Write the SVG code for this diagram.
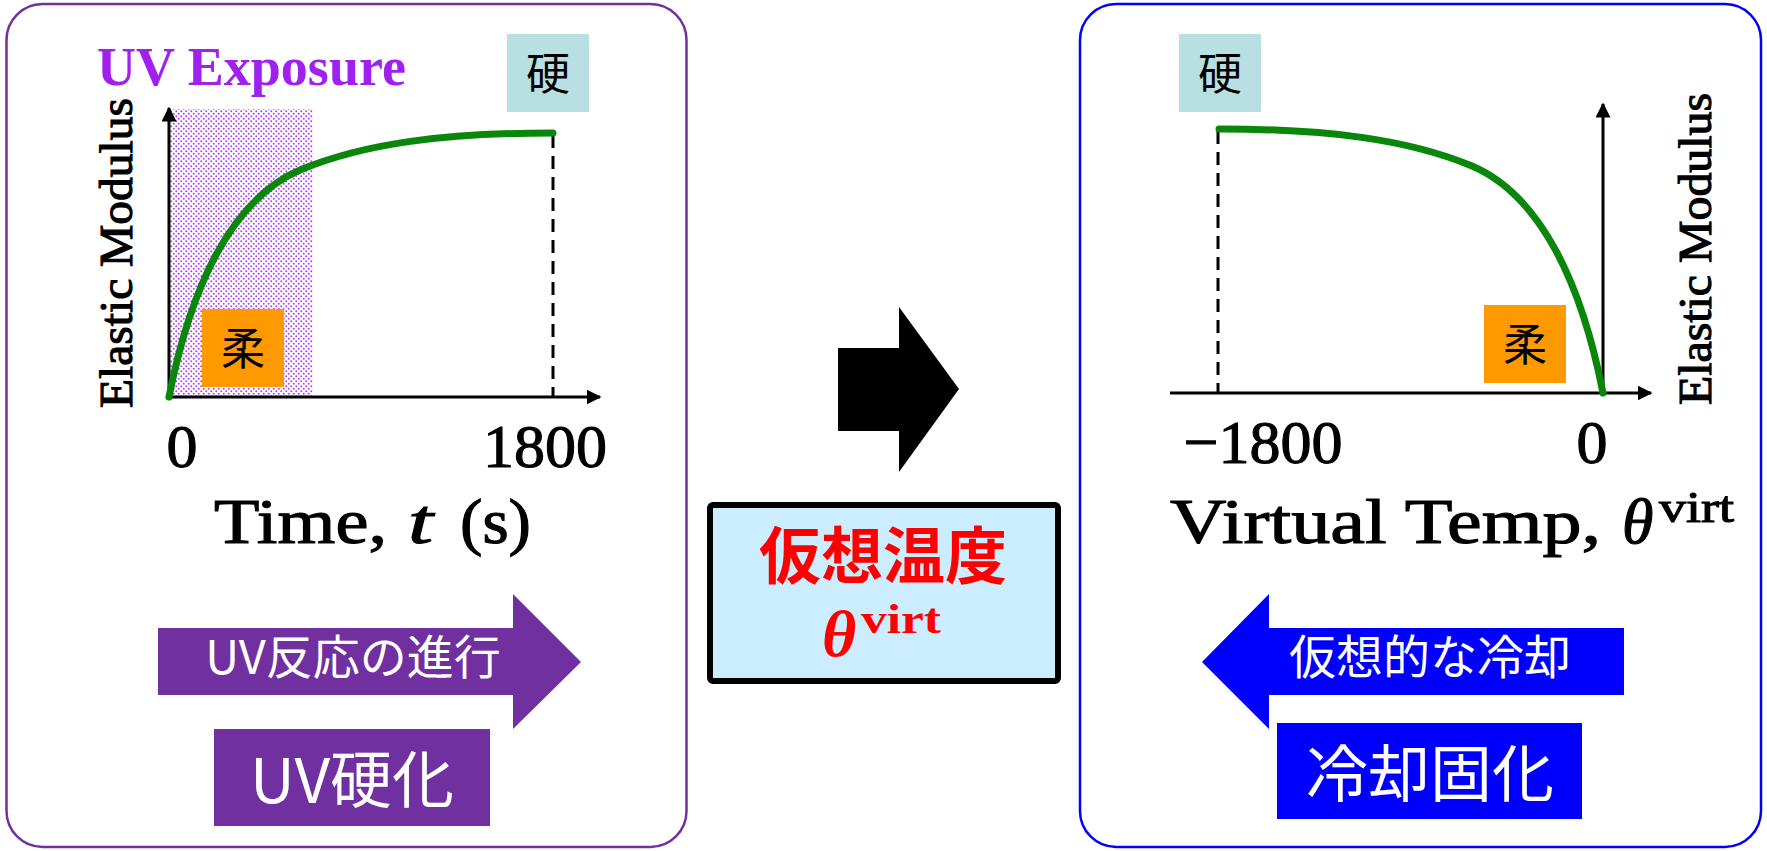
<svg xmlns="http://www.w3.org/2000/svg" xmlns:xlink="http://www.w3.org/1999/xlink" width="1767" height="851" viewBox="0 0 1767 851">
  <style>
    .serif { font-family: "Liberation Serif", "Times New Roman", serif; }
    .cjk { font-family: "Noto Sans CJK JP", "Noto Sans", sans-serif; }
    .heavy { stroke: #000; stroke-width: 1.1; }
    .axis { stroke: #000; stroke-width: 3; fill: none; }
    .guide { stroke: #000; stroke-width: 3; stroke-dasharray: 13 8; fill: none; }
    .curve { stroke: #0A870A; stroke-width: 7; fill: none; stroke-linecap: round; }
    .tag { font-size: 44px; fill: #000; text-anchor: middle; }
    .tick { font-size: 62px; fill: #000; text-anchor: middle; }
    .ylab { font-size: 46px; fill: #000; text-anchor: middle; }
    .white { fill: #fff; text-anchor: middle; }
  </style>
  <defs>
    <marker id="arrowhead" viewBox="0 0 10 10" refX="9" refY="5" markerWidth="5" markerHeight="5" markerUnits="strokeWidth" orient="auto">
      <path d="M0,0 L10,5 L0,10 Z" fill="#000"/>
    </marker>
    <pattern id="dots" width="5" height="5" patternUnits="userSpaceOnUse">
      <circle cx="1.25" cy="1.25" r="1" fill="#A020F0" fill-opacity="0.85"/>
      <circle cx="3.75" cy="3.75" r="1" fill="#A020F0" fill-opacity="0.85"/>
    </pattern>
    <!-- modulus rise: fast growth under exposure, then saturation -->
    <path id="growth" d="M169,397 C190,290 230,200 300,170 C365,143 445,133 553,133"/>
  </defs>

  <!-- UV curing panel -->
  <g id="uv-panel">
    <rect x="6.5" y="4" width="680" height="843" rx="36" fill="#fff" stroke="#7030A0" stroke-width="2.5"/>
    <rect x="170" y="109" width="143" height="288" fill="url(#dots)"/>
    <text class="serif" x="97" y="85" font-size="54" font-weight="bold" fill="#A020F0" textLength="309" lengthAdjust="spacingAndGlyphs">UV Exposure</text>
    <line class="guide" x1="553" y1="135" x2="553" y2="397"/>
    <line class="axis" x1="169" y1="397" x2="169" y2="108" marker-end="url(#arrowhead)"/>
    <line class="axis" x1="169" y1="397" x2="600" y2="397" marker-end="url(#arrowhead)"/>
    <use xlink:href="#growth" class="curve"/>
    <g id="uv-hard">
      <rect x="507" y="34" width="82" height="78" fill="#B8DFE1"/>
      <text class="cjk tag" x="548" y="90">硬</text>
    </g>
    <g id="uv-soft">
      <rect x="202" y="309" width="82" height="78" fill="#FF9900"/>
      <text class="cjk tag" x="243" y="365">柔</text>
    </g>
    <text class="serif ylab heavy" transform="translate(132,253) rotate(-90)" textLength="310" lengthAdjust="spacingAndGlyphs">Elastic Modulus</text>
    <text class="serif tick heavy" x="182" y="467">0</text>
    <text class="serif tick heavy" x="545" y="467">1800</text>
    <text class="serif heavy" x="214" y="543" font-size="64" textLength="173" lengthAdjust="spacingAndGlyphs">Time,</text>
    <text class="serif heavy" x="408" y="543" font-size="64" font-style="italic" textLength="25" lengthAdjust="spacingAndGlyphs">t</text>
    <text class="serif heavy" x="460" y="543" font-size="64" textLength="71" lengthAdjust="spacingAndGlyphs">(s)</text>
    <polygon points="158,628 513,628 513,594 581,662 513,729 513,695 158,695" fill="#7030A0"/>
    <text class="cjk white" x="353" y="674" font-size="47">UV反応の進行</text>
    <g id="uv-cure">
      <rect x="214" y="729" width="276" height="97" fill="#7030A0"/>
      <text class="cjk white" x="352" y="803" font-size="62">UV硬化</text>
    </g>
  </g>

  <!-- cooling solidification panel -->
  <g id="cool-panel">
    <rect x="1080" y="4" width="681" height="843" rx="36" fill="#fff" stroke="#0000FF" stroke-width="2.5"/>
    <line class="guide" x1="1218" y1="131" x2="1218" y2="393"/>
    <line class="axis" x1="1170" y1="393" x2="1651" y2="393" marker-end="url(#arrowhead)"/>
    <line class="axis" x1="1603" y1="393" x2="1603" y2="104" marker-end="url(#arrowhead)"/>
    <use xlink:href="#growth" class="curve" transform="translate(1772,-4) scale(-1,1)"/>
    <g id="cool-hard">
      <rect x="1179" y="34" width="82" height="78" fill="#B8DFE1"/>
      <text class="cjk tag" x="1220" y="90">硬</text>
    </g>
    <g id="cool-soft">
      <rect x="1484" y="305" width="82" height="78" fill="#FF9900"/>
      <text class="cjk tag" x="1525" y="361">柔</text>
    </g>
    <text class="serif ylab heavy" transform="translate(1711,249) rotate(-90)" textLength="312" lengthAdjust="spacingAndGlyphs">Elastic Modulus</text>
    <text class="serif tick heavy" x="1263" y="463">−1800</text>
    <text class="serif tick heavy" x="1592" y="463">0</text>
    <text class="serif heavy" x="1170" y="543" font-size="64" textLength="431" lengthAdjust="spacingAndGlyphs">Virtual Temp,</text>
    <text class="serif heavy" x="1622" y="543" font-size="64" font-style="italic">θ</text>
    <text class="serif heavy" x="1659" y="522" font-size="44" textLength="75" lengthAdjust="spacingAndGlyphs">virt</text>
    <polygon points="1624,628 1269,628 1269,594 1202,662 1269,729 1269,695 1624,695" fill="#0000FF"/>
    <text class="cjk white" x="1430" y="674" font-size="47">仮想的な冷却</text>
    <g id="cool-cure">
      <rect x="1277" y="723" width="305" height="96" fill="#0000FF"/>
      <text class="cjk white" x="1430" y="797" font-size="62">冷却固化</text>
    </g>
  </g>

  <!-- central concept box -->
  <g id="virtual-temp">
    <rect x="710" y="505" width="348" height="176" rx="3" fill="#CCECFF" stroke="#000" stroke-width="6"/>
    <text class="cjk" x="883" y="579" font-size="62" font-weight="bold" fill="#FF0000" text-anchor="middle">仮想温度</text>
    <text class="serif" x="822" y="656" font-size="66" font-weight="bold" font-style="italic" fill="#FF0000">θ</text>
    <text class="serif" x="861" y="633" font-size="42" font-weight="bold" fill="#FF0000" textLength="80" lengthAdjust="spacingAndGlyphs">virt</text>
  </g>

  <g id="connectors">
    <polygon points="838,348 899,348 899,307 959,389 899,472 899,431 838,431" fill="#000"/>
  </g>
</svg>
